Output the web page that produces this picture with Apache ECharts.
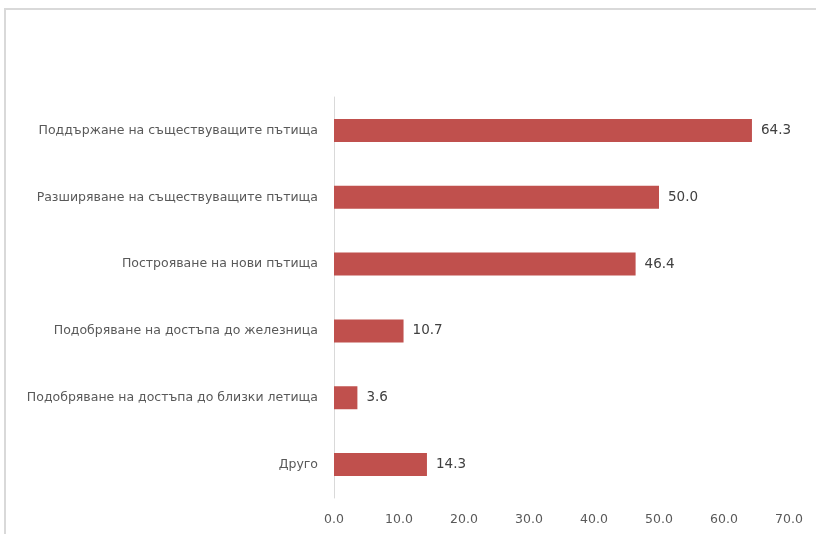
<!DOCTYPE html>
<html>
<head>
<meta charset="utf-8">
<script src="https://cdn.jsdelivr.net/npm/echarts@6/dist/echarts.min.js"></script>
<style>
  html, body { margin: 0; padding: 0; background: #fff; }
  #chart { width: 816px; height: 534px; }
</style>
</head>
<body>
<div id="chart"></div>
<script>
// Categories listed top to bottom
const categories = [
  'Поддържане на съществуващите пътища',
  'Разширяване на съществуващите пътища',
  'Построяване на нови пътища',
  'Подобряване на достъпа до железница',
  'Подобряване на достъпа до близки летища',
  'Друго'
];
const values = [64.3, 50.0, 46.4, 10.7, 3.6, 14.3];
const axisMin = 0;
const axisMax = 70;
const axisStep = 10;

const chart = echarts.init(document.getElementById('chart'), null, { renderer: 'canvas' });
const font = '"DejaVu Sans", "Liberation Sans", sans-serif';

chart.setOption({
  animation: false,
  backgroundColor: '#ffffff',
  graphic: [{
    type: 'rect',
    shape: { x: 5, y: 9, width: 900, height: 600 },
    style: { fill: 'none', stroke: '#d9d9d9', lineWidth: 2 },
    silent: true
  }],
  grid: { left: 334, right: 27, top: 97, bottom: 36, containLabel: false },
  xAxis: {
    type: 'value',
    min: axisMin,
    max: axisMax,
    interval: axisStep,
    axisLine: { show: false },
    axisTick: { show: false },
    splitLine: { show: false },
    axisLabel: {
      formatter: v => v.toFixed(1),
      color: '#595959',
      fontFamily: font,
      fontSize: 12.5,
      margin: 15
    }
  },
  yAxis: {
    type: 'category',
    data: categories,
    inverse: true,
    axisLine: { show: true, lineStyle: { color: '#d9d9d9', width: 1 } },
    axisTick: { show: false },
    axisLabel: {
      color: '#595959',
      fontFamily: font,
      fontSize: 12.5,
      margin: 16
    }
  },
  series: [{
    type: 'bar',
    data: values,
    barWidth: 23,
    itemStyle: { color: '#c0504d' },
    label: {
      show: true,
      position: 'right',
      distance: 9,
      formatter: p => p.value.toFixed(1),
      color: '#404040',
      fontFamily: font,
      fontSize: 13.5
    }
  }]
});
</script>
</body>
</html>
